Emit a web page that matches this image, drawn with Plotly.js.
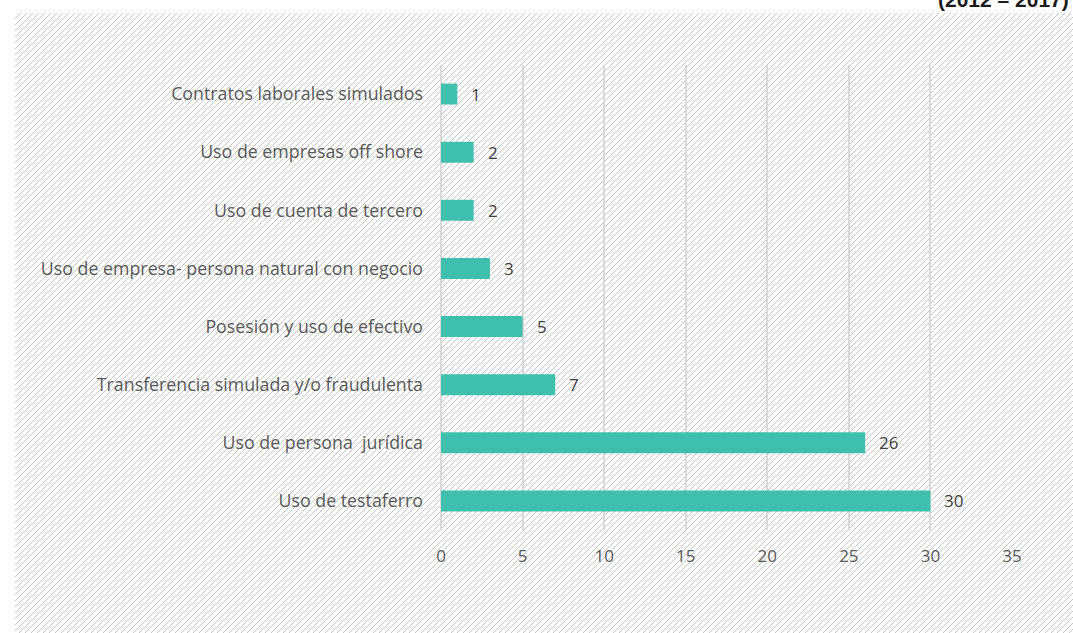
<!DOCTYPE html>
<html>
<head>
<meta charset="utf-8">
<script src="https://cdn.plot.ly/plotly-3.0.1.min.js"></script>
<style>
html,body{margin:0;padding:0;background:#fff;overflow:hidden;}
#wrap{position:relative;width:1073px;height:633px;}
#hatch{position:absolute;left:15px;top:13px;right:0;bottom:0;
background-image:url("data:image/svg+xml;utf8,<svg xmlns='http://www.w3.org/2000/svg' width='6' height='6'><path d='M-1,7 L7,-1 M-4,4 L4,-4 M2,10 L10,2' stroke='%23c4c4c4' stroke-width='1'/></svg>");}
#chart{position:absolute;left:0;top:0;width:1073px;height:633px;}
</style>
</head>
<body>
<div id="wrap"><div id="hatch"></div><div id="chart"></div></div>
<script>
const categories = [
  "Uso de testaferro",
  "Uso de persona  jurídica",
  "Transferencia simulada y/o fraudulenta",
  "Posesión y uso de efectivo",
  "Uso de empresa- persona natural con negocio",
  "Uso de cuenta de tercero",
  "Uso de empresas off shore",
  "Contratos laborales simulados"
];
const values = [30, 26, 7, 5, 3, 2, 2, 1];
const tickValues = [0, 5, 10, 15, 20, 25, 30, 35];
const titleText = "(2012 – 2017)";

const font = "'Open Sans', sans-serif";

const trace = {
  type: "bar",
  orientation: "h",
  y: categories,
  x: values,
  marker: {color: "#3FBFAD"},
  hoverinfo: "none"
};

const annotations = categories.map((c, i) => ({
  x: values[i], y: c, xref: "x", yref: "y",
  text: String(values[i]), showarrow: false,
  xanchor: "left", xshift: 12,
  font: {family: font, size: 17, color: "#404040"}
}));
annotations.push({
  xref: "paper", yref: "paper", x: 1.103, y: 1.111,
  xanchor: "right", yanchor: "bottom",
  text: "<b>" + titleText + "</b>", showarrow: false,
  font: {family: "'Liberation Sans', Arial, sans-serif", size: 21, color: "#1a1a1a"}
});

const layout = {
  width: 1073, height: 633,
  margin: {l: 441, r: 61, t: 65, b: 103},
  paper_bgcolor: "rgba(0,0,0,0)",
  plot_bgcolor: "rgba(0,0,0,0)",
  bargap: 0.64,
  showlegend: false,
  xaxis: {
    range: [0, 35], tickvals: tickValues, ticktext: tickValues.map(String),
    showgrid: true, gridcolor: "#d9d9d9", gridwidth: 2,
    zeroline: true, zerolinecolor: "#d9d9d9", zerolinewidth: 2,
    showline: false, ticks: "",
    ticklabelstandoff: 14,
    tickfont: {family: font, size: 17, color: "#595959"},
    fixedrange: true
  },
  yaxis: {
    type: "category", categoryorder: "array", categoryarray: categories,
    showgrid: false, zeroline: false, showline: false, ticks: "",
    ticklabelstandoff: 17,
    tickfont: {family: font, size: 17.8, color: "#595959"},
    fixedrange: true
  },
  annotations: annotations
};

Plotly.newPlot("chart", [trace], layout, {displayModeBar: false, staticPlot: true});
</script>
</body>
</html>
